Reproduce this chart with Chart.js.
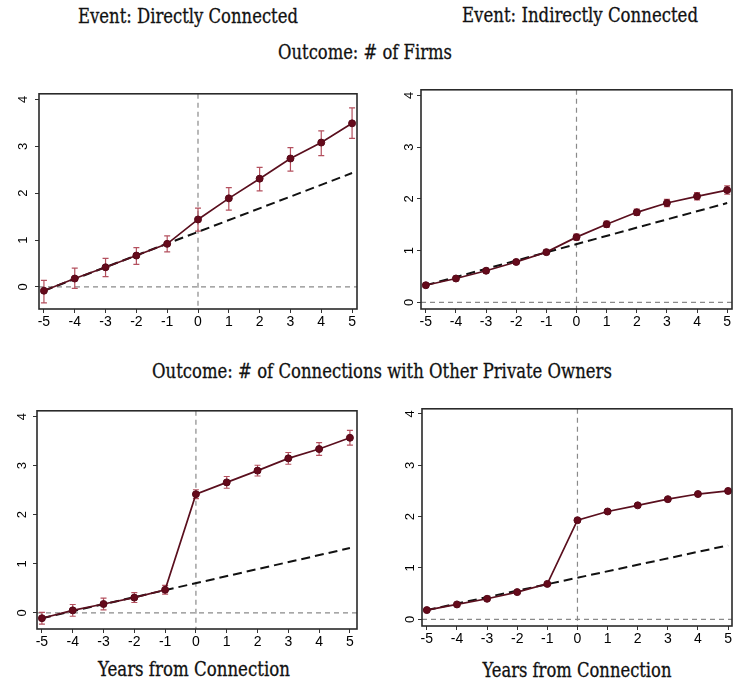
<!DOCTYPE html>
<html><head><meta charset="utf-8">
<script src="https://cdn.jsdelivr.net/npm/chart.js@4"></script>
<style>
html,body{margin:0;padding:0;background:#fff;}
body{width:737px;height:686px;position:relative;overflow:hidden;}
canvas{position:absolute;}
.t{position:absolute;white-space:nowrap;font-family:"DejaVu Serif Condensed","DejaVu Serif",serif;color:#111;line-height:1;transform:translate(-50%,-50%) scaleY(1.12);-webkit-text-stroke:0.25px #111;}
</style></head><body>
<div class="t" id="t1">Event: Directly Connected</div>
<div class="t" id="t2">Event: Indirectly Connected</div>
<div class="t" id="t3">Outcome: # of Firms</div>
<div class="t" id="t4">Outcome: # of Connections with Other Private Owners</div>
<div class="t" id="t5">Years from Connection</div>
<div class="t" id="t6">Years from Connection</div>
<canvas id="c1" width="362" height="257" style="left:0px;top:78px"></canvas>
<canvas id="c2" width="367" height="257" style="left:370px;top:78px"></canvas>
<canvas id="c3" width="362" height="260" style="left:0px;top:396px"></canvas>
<canvas id="c4" width="367" height="256" style="left:370px;top:397px"></canvas>
<script>
// ---- data ----
const years = [-5,-4,-3,-2,-1,0,1,2,3,4,5];
const xTickValues = [-5,-4,-3,-2,-1,0,1,2,3,4,5];
const yTickValues = [0,1,2,3,4];
const trendYears = [-5, 5];

const firmsDirect   = [-0.08,0.18,0.42,0.67,0.92,1.44,1.89,2.31,2.74,3.08,3.49];
const firmsDirectLo = [-0.34,-0.03,0.22,0.48,0.75,1.19,1.64,2.05,2.47,2.80,3.17];
const firmsDirectHi = [0.14,0.40,0.61,0.84,1.09,1.68,2.12,2.55,2.97,3.33,3.82];
const firmsDirectTrend = [-0.08, 2.43];

const firmsIndirect   = [0.33,0.46,0.61,0.78,0.97,1.26,1.51,1.74,1.92,2.05,2.17];
const firmsIndirectLo = [0.29,0.42,0.57,0.74,0.93,1.20,1.45,1.68,1.85,1.98,2.09];
const firmsIndirectHi = [0.37,0.50,0.65,0.82,1.01,1.32,1.57,1.80,1.99,2.12,2.25];
const firmsIndirectTrend = [0.33, 1.92];

const connDirect   = [-0.11,0.05,0.18,0.31,0.47,2.42,2.66,2.90,3.15,3.34,3.57];
const connDirectLo = [-0.23,-0.07,0.06,0.21,0.38,2.33,2.54,2.79,3.03,3.21,3.42];
const connDirectHi = [0.01,0.17,0.30,0.41,0.56,2.51,2.78,3.01,3.27,3.47,3.72];
const connDirectTrend = [-0.11, 1.32];

const connIndirect   = [0.18,0.29,0.40,0.53,0.69,1.93,2.10,2.22,2.34,2.44,2.50];
const connIndirectLo = [0.16,0.27,0.38,0.51,0.67,1.90,2.07,2.19,2.31,2.41,2.47];
const connIndirectHi = [0.20,0.31,0.42,0.55,0.71,1.96,2.13,2.25,2.37,2.47,2.53];
const connIndirectTrend = [0.18, 1.44];

const refX = 0, refY = 0;

// ---- titles ----
const titleLayout = [
  ['t1',188,16,220],['t2',580,16,236],['t3',365,52,174],
  ['t4',382,371,460],['t5',194,670,192],['t6',577,670,189]
];
const mctx = document.createElement('canvas').getContext('2d');
titleLayout.forEach(([id,cx,cy,w])=>{
  const el = document.getElementById(id);
  mctx.font = '100px "DejaVu Serif Condensed"';
  const mw = mctx.measureText(el.textContent).width;
  el.style.fontSize = (100*w/mw).toFixed(2)+'px';
  el.style.left = cx+'px'; el.style.top = cy+'px';
});

// ---- plugins ----
const refPlugin = {
  id:'refLines',
  beforeDatasetsDraw(chart){
    const {ctx, chartArea:a, scales:{x,y}} = chart;
    ctx.save();
    ctx.strokeStyle = '#8a8a8a'; ctx.lineWidth = 1.2; ctx.setLineDash([5,4]);
    const px = x.getPixelForValue(refX), py = y.getPixelForValue(refY);
    ctx.beginPath(); ctx.moveTo(a.left, py); ctx.lineTo(a.right, py); ctx.stroke();
    ctx.beginPath(); ctx.moveTo(px, a.top); ctx.lineTo(px, a.bottom); ctx.stroke();
    ctx.restore();
  }
};
const errPlugin = {
  id:'errBars',
  beforeDatasetsDraw(chart){
    const {ctx, scales:{x,y}} = chart;
    const ds = chart.data.datasets[0];
    ctx.save();
    ctx.strokeStyle = '#b4505e'; ctx.lineWidth = 1.2;
    years.forEach((yr,i)=>{
      const px = x.getPixelForValue(yr);
      const p1 = y.getPixelForValue(ds.errLo[i]), p2 = y.getPixelForValue(ds.errHi[i]);
      ctx.beginPath();
      ctx.moveTo(px,p1); ctx.lineTo(px,p2);
      ctx.moveTo(px-3,p1); ctx.lineTo(px+3,p1);
      ctx.moveTo(px-3,p2); ctx.lineTo(px+3,p2);
      ctx.stroke();
    });
    ctx.restore();
  }
};
const framePlugin = {
  id:'frame',
  afterDraw(chart){
    const {ctx, chartArea:a} = chart;
    ctx.save();
    ctx.strokeStyle = '#2a2a2a'; ctx.lineWidth = 1.6;
    ctx.strokeRect(a.left, a.top, a.right-a.left, a.bottom-a.top);
    ctx.restore();
  }
};

const xTickFont = {family:'"Liberation Sans", Arial, sans-serif', size:14};
const yTickFont = {family:'"Liberation Sans", Arial, sans-serif', size:13};

function makePanel(id, L, mean, lo, hi, trend){
  return new Chart(document.getElementById(id), {
    type:'line',
    data:{datasets:[
      {data: years.map((x,i)=>({x, y:mean[i]})), errLo: lo, errHi: hi,
       borderColor:'#5a0f1e', borderWidth:1.7, pointRadius:3.5,
       pointBackgroundColor:'#650a1b', pointBorderColor:'#560818', pointBorderWidth:1, order:1},
      {data: trendYears.map((x,i)=>({x, y:trend[i]})),
       borderColor:'#111', borderWidth:2, borderDash:[9,5], pointRadius:0, order:2}
    ]},
    options:{
      responsive:false, animation:false, events:[],
      layout:{padding:{top:7, right:L.padR, left:0, bottom:0}},
      plugins:{legend:{display:false}, tooltip:{enabled:false}},
      scales:{
        x:{type:'linear', min:L.xMin, max:L.xMax,
           afterBuildTicks:s=>{s.ticks = xTickValues.map(v=>({value:v}));},
           afterFit:s=>{s.height = L.xh;},
           border:{display:false},
           grid:{drawOnChartArea:false, drawTicks:true, tickLength:4, color:'#333'},
           ticks:{padding:1, font:xTickFont, color:'#000', maxRotation:0, minRotation:0, autoSkip:false}},
        y:{type:'linear', min:L.yMin, max:L.yMax,
           afterBuildTicks:s=>{s.ticks = yTickValues.map(v=>({value:v}));},
           afterFit:s=>{s.width = L.yw;},
           border:{display:false},
           grid:{drawOnChartArea:false, drawTicks:true, tickLength:4, color:'#333'},
           ticks:{padding:L.ypad, font:yTickFont, color:'#000', minRotation:90, maxRotation:90, crossAlign:'center'}}
      }
    },
    plugins:[refPlugin, errPlugin, framePlugin]
  });
}

makePanel('c1', {padR:5, xh:26, yw:39, ypad:8, xMin:-5.16, xMax:5.16, yMin:-0.47, yMax:4.12},
  firmsDirect, firmsDirectLo, firmsDirectHi, firmsDirectTrend);
makePanel('c2', {padR:1, xh:26, yw:51, ypad:4, xMin:-5.16, xMax:5.16, yMin:-0.13, yMax:4.11},
  firmsIndirect, firmsIndirectLo, firmsIndirectHi, firmsIndirectTrend);
makePanel('c3', {padR:4, xh:27, yw:37, ypad:7, xMin:-5.16, xMax:5.23, yMin:-0.33, yMax:4.12},
  connDirect, connDirectLo, connDirectHi, connDirectTrend);
makePanel('c4', {padR:0, xh:27, yw:52, ypad:4, xMin:-5.16, xMax:5.13, yMin:-0.13, yMax:4.10},
  connIndirect, connIndirectLo, connIndirectHi, connIndirectTrend);
</script>
</body></html>
